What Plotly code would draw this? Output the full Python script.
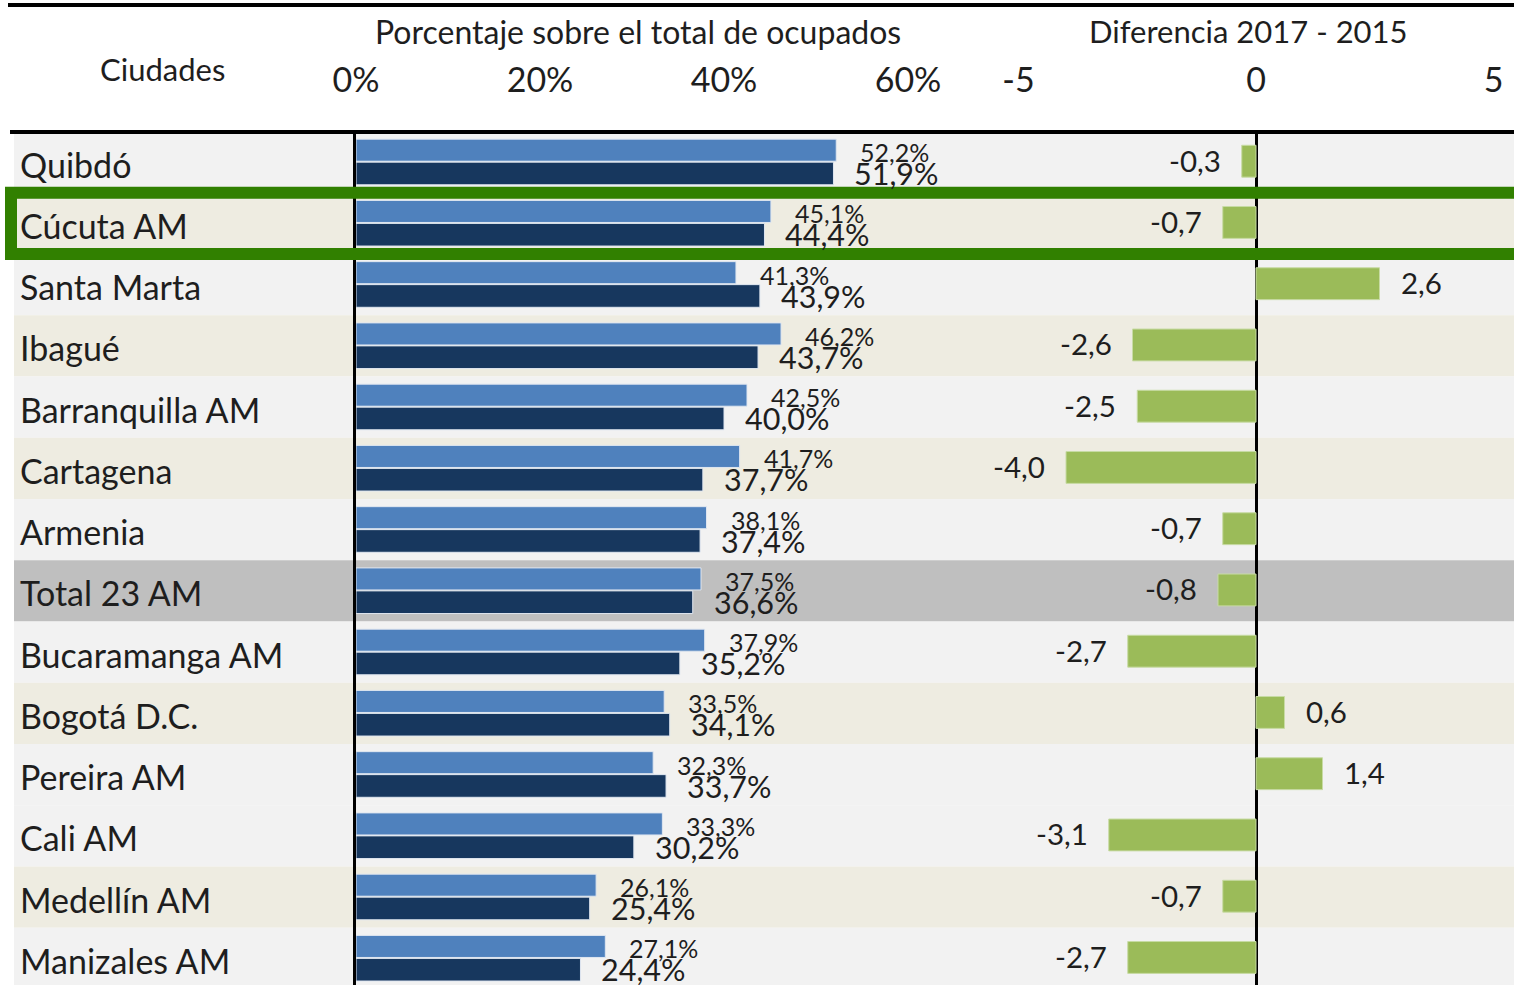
import plotly.graph_objects as go

cities = ["Quibdó", "Cúcuta AM", "Santa Marta", "Ibagué", "Barranquilla AM", "Cartagena",
          "Armenia", "Total 23 AM", "Bucaramanga AM", "Bogotá D.C.", "Pereira AM", "Cali AM",
          "Medellín AM", "Manizales AM"]
pct_2015 = [52.2, 45.1, 41.3, 46.2, 42.5, 41.7, 38.1, 37.5, 37.9, 33.5, 32.3, 33.3, 26.1, 27.1]
pct_2017 = [51.9, 44.4, 43.9, 43.7, 40.0, 37.7, 37.4, 36.6, 35.2, 34.1, 33.7, 30.2, 25.4, 24.4]
diff = [-0.3, -0.7, 2.6, -2.6, -2.5, -4.0, -0.7, -0.8, -2.7, 0.6, 1.4, -3.1, -0.7, -2.7]
row_colors = ["#f2f2f2", "#eeece1", "#f2f2f2", "#eeece1", "#f2f2f2", "#eeece1", "#f2f2f2",
              "#bfbfbf", "#f2f2f2", "#eeece1", "#f2f2f2", "#f2f2f2", "#eeece1", "#f2f2f2"]
highlight = "Cúcuta AM"
pct_ticks = [0, 20, 40, 60]
pct_ticktext = ["0%", "20%", "40%", "60%"]
diff_ticks = [-5, 0, 5]
diff_ticktext = ["-5", "0", "5"]

W, H = 1514, 985
FONT = "Lato, 'Open Sans', sans-serif"
TXT = "#1e1e1e"


def fmt(v, pct=False):
    s = f"{v:.1f}".replace(".", ",")
    return s + ("%" if pct else "")


fig = go.Figure()
fig.add_trace(go.Bar(y=cities, x=pct_2015, orientation="h", name="2015",
                     marker=dict(color="#4f81bd", line=dict(color="#dfe6f0", width=1)),
                     width=0.36, offset=-0.375, xaxis="x", yaxis="y", hoverinfo="skip"))
fig.add_trace(go.Bar(y=cities, x=pct_2017, orientation="h", name="2017",
                     marker=dict(color="#17375e", line=dict(color="#dfe6f0", width=1)),
                     width=0.37, offset=0.0, xaxis="x", yaxis="y", hoverinfo="skip"))
fig.add_trace(go.Bar(y=cities, x=diff, orientation="h", name="Diferencia",
                     marker=dict(color="#9bbb59", line=dict(color="#c8dba4", width=1)),
                     width=0.52, offset=-0.275, xaxis="x2", yaxis="y", hoverinfo="skip"))

shapes = []
for i, c in enumerate(cities):
    shapes.append(dict(type="rect", xref="paper", yref="y", x0=14 / W, x1=1,
                       y0=i - 0.5, y1=i + 0.5, fillcolor=row_colors[i],
                       line=dict(width=0), layer="below"))
hi = cities.index(highlight)
shapes.append(dict(type="rect", xref="paper", yref="y", x0=11 / W, x1=1.02,
                   y0=hi - 0.5, y1=hi + 0.5, line=dict(color="#318000", width=12),
                   layer="above"))
shapes.append(dict(type="line", xref="paper", yref="paper", x0=8 / W, x1=1,
                   y0=1 - 5 / H, y1=1 - 5 / H, line=dict(color="black", width=4)))
shapes.append(dict(type="line", xref="paper", yref="paper", x0=10 / W, x1=1,
                   y0=1 - 132 / H, y1=1 - 132 / H, line=dict(color="black", width=4)))

annotations = []
for i, c in enumerate(cities):
    annotations.append(dict(x=18 / W, xref="paper", y=c, yref="y", text=c, showarrow=False,
                            xanchor="left", yanchor="middle", yshift=-2,
                            font=dict(family=FONT, size=34, color=TXT)))
    annotations.append(dict(x=pct_2015[i], xref="x", y=c, yref="y", text=fmt(pct_2015[i], True),
                            showarrow=False, xanchor="left", yanchor="middle", xshift=22, yshift=10,
                            font=dict(family=FONT, size=25, color=TXT)))
    annotations.append(dict(x=pct_2017[i], xref="x", y=c, yref="y", text=fmt(pct_2017[i], True),
                            showarrow=False, xanchor="left", yanchor="middle", xshift=19, yshift=-11,
                            font=dict(family=FONT, size=30.5, color=TXT)))
    d = diff[i]
    annotations.append(dict(x=d, xref="x2", y=c, yref="y", text=fmt(d), showarrow=False,
                            xanchor="right" if d < 0 else "left", yanchor="middle",
                            xshift=-19 if d < 0 else 19, yshift=2,
                            font=dict(family=FONT, size=29.5, color=TXT)))

annotations.append(dict(x=637.5 / W, xref="paper", y=1 - 31 / H, yref="paper",
                        text="Porcentaje sobre el total de ocupados", showarrow=False,
                        xanchor="center", yanchor="middle", font=dict(family=FONT, size=32, color=TXT)))
annotations.append(dict(x=1248 / W, xref="paper", y=1 - 31 / H, yref="paper",
                        text="Diferencia 2017 - 2015", showarrow=False,
                        xanchor="center", yanchor="middle", font=dict(family=FONT, size=31, color=TXT)))
annotations.append(dict(x=162.5 / W, xref="paper", y=1 - 69 / H, yref="paper",
                        text="Ciudades", showarrow=False,
                        xanchor="center", yanchor="middle", font=dict(family=FONT, size=31, color=TXT)))

row_h = 61.25
top_px = 131.5
y_bottom = -0.5 + (H - top_px) / row_h

fig.update_layout(
    template="none",
    width=W, height=H, margin=dict(l=0, r=0, t=0, b=0, pad=0, autoexpand=False),
    paper_bgcolor="white", plot_bgcolor="rgba(0,0,0,0)",
    showlegend=False, barmode="overlay",
    shapes=shapes, annotations=annotations,
    xaxis=dict(domain=[356 / W, 1000 / W], range=[0, 644 / 9.2], side="top", automargin=False,
               tickvals=pct_ticks, ticktext=pct_ticktext, showgrid=False, zeroline=False,
               showline=False, ticks="", ticklabelstandoff=32,
               tickfont=dict(family=FONT, size=34, color=TXT), fixedrange=True),
    xaxis2=dict(domain=[1000 / W, 1], range=[(1000 - 1256) / 47.5, (W - 1256) / 47.5], side="top",
                anchor="y", automargin=False, tickvals=diff_ticks, ticktext=diff_ticktext,
                showgrid=False, zeroline=True, zerolinecolor="black", zerolinewidth=3,
                showline=False, ticks="", ticklabelstandoff=32,
                tickfont=dict(family=FONT, size=34, color=TXT), fixedrange=True),
    yaxis=dict(domain=[0, 1 - top_px / H], type="category", categoryorder="array",
               categoryarray=cities, range=[y_bottom, -0.5], showticklabels=False,
               automargin=False, showgrid=False, zeroline=False, showline=True,
               linecolor="black", linewidth=3, ticks="", fixedrange=True),
)

fig.write_html("out.html", config={"displayModeBar": False},
               post_script="document.body.style.margin='0px';")
